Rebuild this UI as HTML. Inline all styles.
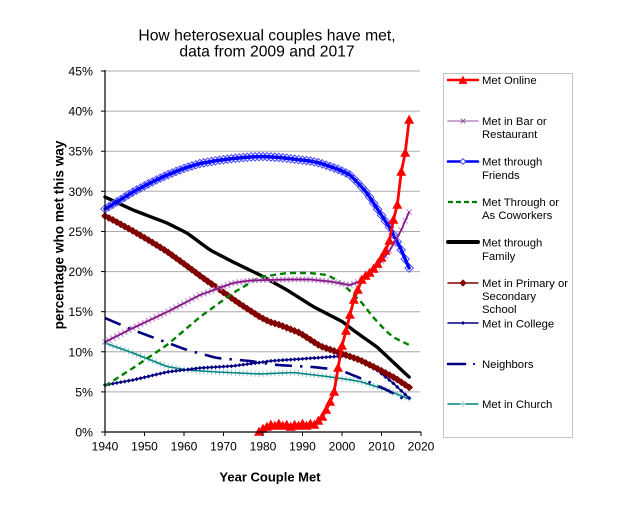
<!DOCTYPE html>
<html><head><meta charset="utf-8"><style>
html,body{margin:0;padding:0;background:#fff;}
svg{display:block;font-family:"Liberation Sans",Arial,sans-serif;}
</style></head><body>
<svg id="c" width="620" height="507" viewBox="0 0 620 507" xmlns="http://www.w3.org/2000/svg">
<rect width="620" height="507" fill="#fff"/>
<text x="267" y="40.5" font-size="15.7" text-anchor="middle" fill="#000">How heterosexual couples have met,</text>
<text x="267" y="56.5" font-size="15.7" text-anchor="middle" fill="#000">data from 2009 and 2017</text>
<g stroke="#ababab" stroke-width="1">
<line x1="105" x2="420" y1="71" y2="71"/>
<line x1="105" x2="420" y1="111.1" y2="111.1"/>
<line x1="105" x2="420" y1="151.2" y2="151.2"/>
<line x1="105" x2="420" y1="191.3" y2="191.3"/>
<line x1="105" x2="420" y1="231.5" y2="231.5"/>
<line x1="105" x2="420" y1="271.6" y2="271.6"/>
<line x1="105" x2="420" y1="311.7" y2="311.7"/>
<line x1="105" x2="420" y1="351.8" y2="351.8"/>
<line x1="105" x2="420" y1="391.9" y2="391.9"/>
</g>
<g font-size="12.3" text-anchor="end" fill="#000">
<text x="93" y="75.5">45%</text>
<text x="93" y="115.6">40%</text>
<text x="93" y="155.7">35%</text>
<text x="93" y="195.8">30%</text>
<text x="93" y="236">25%</text>
<text x="93" y="276.1">20%</text>
<text x="93" y="316.2">15%</text>
<text x="93" y="356.3">10%</text>
<text x="93" y="396.4">5%</text>
<text x="93" y="436.5">0%</text>
</g>
<g font-size="12" text-anchor="middle" fill="#000">
<text x="105" y="450.5">1940</text>
<text x="144.5" y="450.5">1950</text>
<text x="184" y="450.5">1960</text>
<text x="223.5" y="450.5">1970</text>
<text x="263" y="450.5">1980</text>
<text x="302.5" y="450.5">1990</text>
<text x="342" y="450.5">2000</text>
<text x="381.5" y="450.5">2010</text>
<text x="421" y="450.5">2020</text>
</g>
<text x="270" y="481.5" font-size="13" font-weight="bold" text-anchor="middle">Year Couple Met</text>
<text transform="translate(63.5,235) rotate(-90)" font-size="13.6" font-weight="bold" text-anchor="middle">percentage who met this way</text>
<g id="s"></g>
<g stroke="#000" stroke-width="1.2">
<line x1="105" x2="105" y1="70" y2="432.5"/>
<line x1="104.5" x2="421" y1="432" y2="432"/>
</g>
<g id="ticks" stroke="#000" stroke-width="1"></g>
<rect x="443.5" y="73.5" width="129" height="364" fill="#fff" stroke="#c4c4c4" stroke-width="1"/>
<g id="leg"></g>
<g font-size="11.3" fill="#000">
<text x="482" y="84">Met Online</text>
<text x="482" y="125">Met in Bar or</text>
<text x="482" y="138">Restaurant</text>
<text x="482" y="165.5">Met through</text>
<text x="482" y="179">Friends</text>
<text x="482" y="206">Met Through or</text>
<text x="482" y="219">As Coworkers</text>
<text x="482" y="246.5">Met through</text>
<text x="482" y="260">Family</text>
<text x="482" y="287">Met in Primary or</text>
<text x="482" y="300">Secondary</text>
<text x="482" y="313">School</text>
<text x="482" y="327.5">Met in College</text>
<text x="482" y="368">Neighbors</text>
<text x="482" y="408">Met in Church</text>
</g>
</svg>
<script>
(function(){
const NS="http://www.w3.org/2000/svg";
const S=document.getElementById('s');
const T=document.getElementById('ticks');
const L=document.getElementById('leg');
function el(t,a,p){const e=document.createElementNS(NS,t);for(const k in a)e.setAttribute(k,a[k]);p.appendChild(e);return e;}
const X=y=>105+(y-1940)*3.95;
for(let p=0;p<=45;p+=5){const y=432-p*8.022;el('line',{x1:101,x2:105,y1:y,y2:y},T);}
for(let yr=1940;yr<=2020;yr+=10){const x=X(yr);el('line',{x1:x,x2:x,y1:432,y2:436},T);}
function interp(pts,x){if(x<=pts[0][0])return pts[0][1];for(let i=1;i<pts.length;i++){if(x<=pts[i][0]){const a=pts[i-1],b=pts[i];return a[1]+(b[1]-a[1])*(x-a[0])/(b[0]-a[0]);}}return pts[pts.length-1][1];}
function ser(pts,y0,y1){const r=[];for(let yr=y0;yr<=y1;yr++){const x=X(yr);r.push([x,interp(pts,x)]);}return r;}
function line(pts,stroke,w,dash,p){const a={points:pts.map(q=>q[0].toFixed(2)+','+q[1].toFixed(2)).join(' '),fill:'none',stroke:stroke,'stroke-width':w,'stroke-linejoin':'round','stroke-linecap':dash?'butt':'round'};if(dash)a['stroke-dasharray']=dash;el('polyline',a,p||S);}
function diamond(x,y,r,fill,stroke,sw,p){el('polygon',{points:`${x},${y-r} ${x+r},${y} ${x},${y+r} ${x-r},${y}`,fill:fill,stroke:stroke,'stroke-width':sw},p||S);}
function tri(x,y,p,s){s=s||1;el('polygon',{points:`${x},${y-5.4*s} ${x-5*s},${y+3.8*s} ${x+5*s},${y+3.8*s}`,fill:'#ff0000'},p||S);}
function xm(x,y,c,r,p){el('path',{d:`M${x-r},${y-r}L${x+r},${y+r}M${x-r},${y+r}L${x+r},${y-r}`,stroke:c,'stroke-width':1,fill:'none'},p||S);}
function pm(x,y,c,r,p){el('path',{d:`M${x-r},${y}L${x+r},${y}M${x},${y-r}L${x},${y+r}`,stroke:c,'stroke-width':1,fill:'none'},p||S);}

const church=ser([[105,343],[133,353],[167,366.5],[187,370],[217,372],[260,374],[293,372.5],[327,376.5],[345,379],[360,381.5],[387,390],[409,399]],1940,2017);
const neighbors=ser([[105,318],[133,330],[160,340],[187,350],[217,358],[250,361],[277,365],[313,367],[340,370],[360,378],[387,390],[409,402]],1940,2017);
const college=ser([[105,385],[133,380],[167,372],[200,368],[233,366],[260,362.5],[270,361],[300,359],[343,356],[352,356.5],[360,361.5],[377,370],[393,383],[409,398]],1940,2017);
const school=ser([[105,216],[113,220],[133,231],[150,241],[167,251.5],[187,266],[203,278],[223,292],[240,304],[260,317],[270,322],[280,325],[300,333],[320,346],[340,353],[360,360],[380,370],[395,378],[410,388]],1940,2017);
const family=ser([[105,197],[133,210],[167,223],[187,233],[210,250],[233,262],[260,275],[287,290],[313,306.5],[343,322],[353,330],[377,347],[409,377]],1940,2017);
const cow=ser([[105,386],[133,368],[167,345],[200,317],[233,293],[260,277],[287,273],[310,273],[327,275],[337,280],[347,288],[362,303],[373,317],[385,330],[393,337],[409,345]],1940,2017);
const friends=ser([[105,209],[120,200],[133,192],[150,183],[167,175],[185,168],[200,163.5],[217,160.5],[233,158.5],[250,157],[263,156.5],[280,157.5],[293,159],[310,161],[320,163],[330,166.5],[340,170],[350,175],[358,183],[367,193],[380,213],[390,228],[400,247],[409,268]],1940,2017);
const bar=ser([[105,342],[133,328],[167,312],[200,295],[233,283],[250,280.5],[267,280],[290,279.5],[310,279.5],[330,281.5],[350,285],[363,280],[377,267],[390,250],[400,233],[409,212]],1940,2017);
const onY=[432,429,427,425,426,424,426,425,427,425,426,424,426,424,425,421,417,410,402,392,368,346,331,315,300,290,280,276,273,269,264,258,251,241,220,205,172,153,120];
const online=onY.map((y,i)=>[X(1979+i),y]);

line(church,'#008080',1.5);
church.forEach(q=>pm(q[0],q[1],'#8cc8c8',3));
line(church,'#008080',1.3);
line(neighbors,'#000080',2.6,'17 8 2.5 8');
line(college,'#000080',1.5);
college.forEach(q=>diamond(q[0],q[1],2.1,'#000080','none',0));
line(school,'#800000',3);
school.forEach(q=>diamond(q[0],q[1],3.9,'#800000','none',0));
line(family,'#000000',3.4);
line(cow,'#008000',2.4,'6 4');
friends.forEach(q=>diamond(q[0],q[1],4.2,'none','#4a4aff',1));
line(friends,'#0000ff',3.4);
bar.forEach(q=>xm(q[0],q[1],'#c08ac8',2.7));
line(bar,'#86178a',1.7);
line(online,'#ff0000',2.8);
online.forEach(q=>tri(q[0],q[1]));

line([[448,80],[478,80]],'#ff0000',2.5,null,L);tri(463,80.5,L,0.9);
line([[448,121],[478,121]],'#b488c0',1.6,null,L);xm(463,121,'#9050a0',2.3,L);
line([[448,161.5],[478,161.5]],'#0000ff',2.6,null,L);diamond(463,161.5,2.8,'#fff','#4040ff',1,L);
line([[448,202],[478,202]],'#008000',2.2,'5 3',L);
line([[448,242],[478,242]],'#000000',4,null,L);
line([[448,283],[478,283]],'#800000',1.5,null,L);diamond(463,283,3.6,'#800000','none',0,L);
line([[448,323],[478,323]],'#000080',1.5,null,L);diamond(463,323,2,'#000080','none',0,L);
line([[448,364],[465,364]],'#000080',2.6,null,L);el('circle',{cx:474,cy:364,r:1.1,fill:'#000080'},L);
line([[448,404],[478,404]],'#008080',1.4,null,L);pm(463,404,'#a0d0d0',3,L);
})();
</script>
</body></html>
